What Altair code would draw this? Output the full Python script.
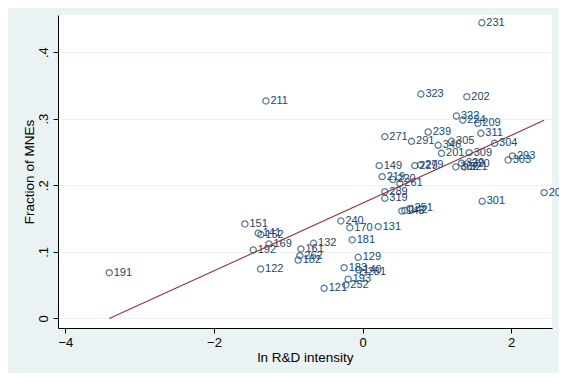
import altair as alt
import pandas as pd

labels = ["231", "323", "202", "322", "224", "209", "311", "239", "305", "291",
          "346", "271", "304", "201", "309", "293", "303", "205", "301", "149",
          "229", "279", "332", "329", "320", "321", "219", "220", "261", "289",
          "319", "143", "142", "251", "131", "240", "170", "181", "132", "161",
          "262", "182", "129", "183", "140", "281", "193", "252", "121", "151",
          "141", "152", "169", "192", "122", "191", "211"]
rd_intensity = [1.606, 0.785, 1.404, 1.263, 1.350, 1.552, 1.592, 0.883, 1.198, 0.659,
                1.018, 0.300, 1.777, 1.063, 1.435, 2.018, 1.960, 2.444, 1.610, 0.224,
                0.704, 0.780, 1.256, 1.332, 1.404, 1.377, 0.264, 0.407, 0.502, 0.300,
                0.300, 0.529, 0.569, 0.637, 0.210, -0.292, -0.171, -0.140, -0.660, -0.830,
                -0.844, -0.867, -0.059, -0.248, -0.050, 0.008, -0.194, -0.225, -0.517, -1.584,
                -1.405, -1.369, -1.260, -1.472, -1.373, -3.410, -1.301]
frac_mne = [0.444, 0.337, 0.333, 0.304, 0.298, 0.293, 0.278, 0.280, 0.266, 0.266,
            0.260, 0.273, 0.263, 0.248, 0.249, 0.244, 0.238, 0.189, 0.176, 0.2295,
            0.2295, 0.2305, 0.2275, 0.233, 0.232, 0.2275, 0.213, 0.2087, 0.2027, 0.1904,
            0.1805, 0.1614, 0.1622, 0.1652, 0.1378, 0.1464, 0.1363, 0.1179, 0.1129, 0.1044,
            0.0943, 0.0878, 0.0919, 0.0763, 0.0728, 0.0691, 0.0589, 0.0503, 0.0453, 0.1419,
            0.128, 0.126, 0.1119, 0.1029, 0.0743, 0.0688, 0.3266]

x_ticks = [-4, -2, 0, 2]
y_ticks = [0, 0.1, 0.2, 0.3, 0.4]

df = pd.DataFrame({"label": labels, "x": rd_intensity, "y": frac_mne})

navy = "#1A476F"
maroon = "#90353B"
font = "Liberation Sans"

xenc = alt.X("x:Q", scale=alt.Scale(domain=[-4.1, 2.55], nice=False, zero=False),
             axis=alt.Axis(values=x_ticks, title="ln R&D intensity", grid=False,
                           labelExpr="datum.value < 0 ? '\u2212' + abs(datum.value) : datum.value"))
yenc = alt.Y("y:Q", scale=alt.Scale(domain=[-0.0143, 0.4557], nice=False, zero=False),
             axis=alt.Axis(values=y_ticks, title="Fraction of MNEs", grid=True,
                           labelAngle=270, labelAlign="center", labelBaseline="bottom",
                           labelExpr="datum.value == 0 ? '0' : replace(format(datum.value, '.1f'), '0.', '.')"))

base = alt.Chart(df)

points = base.mark_point(shape="circle", filled=False, color=navy, size=38, strokeWidth=1.3).encode(
    x=xenc, y=yenc)

text = base.mark_text(align="left", baseline="middle", dx=4.5, color=navy, fontSize=11,
                      font=font, clip=False).encode(x="x:Q", y="y:Q", text="label:N")

fit = base.transform_regression("x", "y").mark_line(color=maroon, strokeWidth=1.1).encode(
    x="x:Q", y="y:Q")

chart = alt.layer(points, text, fit).properties(
    width=494, height=313,
    autosize=alt.AutoSizeParams(type="none"),
    padding={"left": 50, "top": 7, "right": 7, "bottom": 45},
    background="#EAF2F3",
).configure_view(fill="white", stroke=None).configure_axis(
    labelFont=font, titleFont=font, labelFontSize=13, titleFontSize=13.5,
    labelColor="black", titleColor="black", titleFontWeight="normal",
    domainColor="black", tickColor="black", tickSize=5, domainWidth=1, tickWidth=1,
    gridColor="#EAF2F3", gridWidth=1, labelPadding=3,
).configure_axisX(titlePadding=1).configure_axisY(titlePadding=1)

chart.save("out.html", embed_options={"renderer": "svg", "actions": False})
